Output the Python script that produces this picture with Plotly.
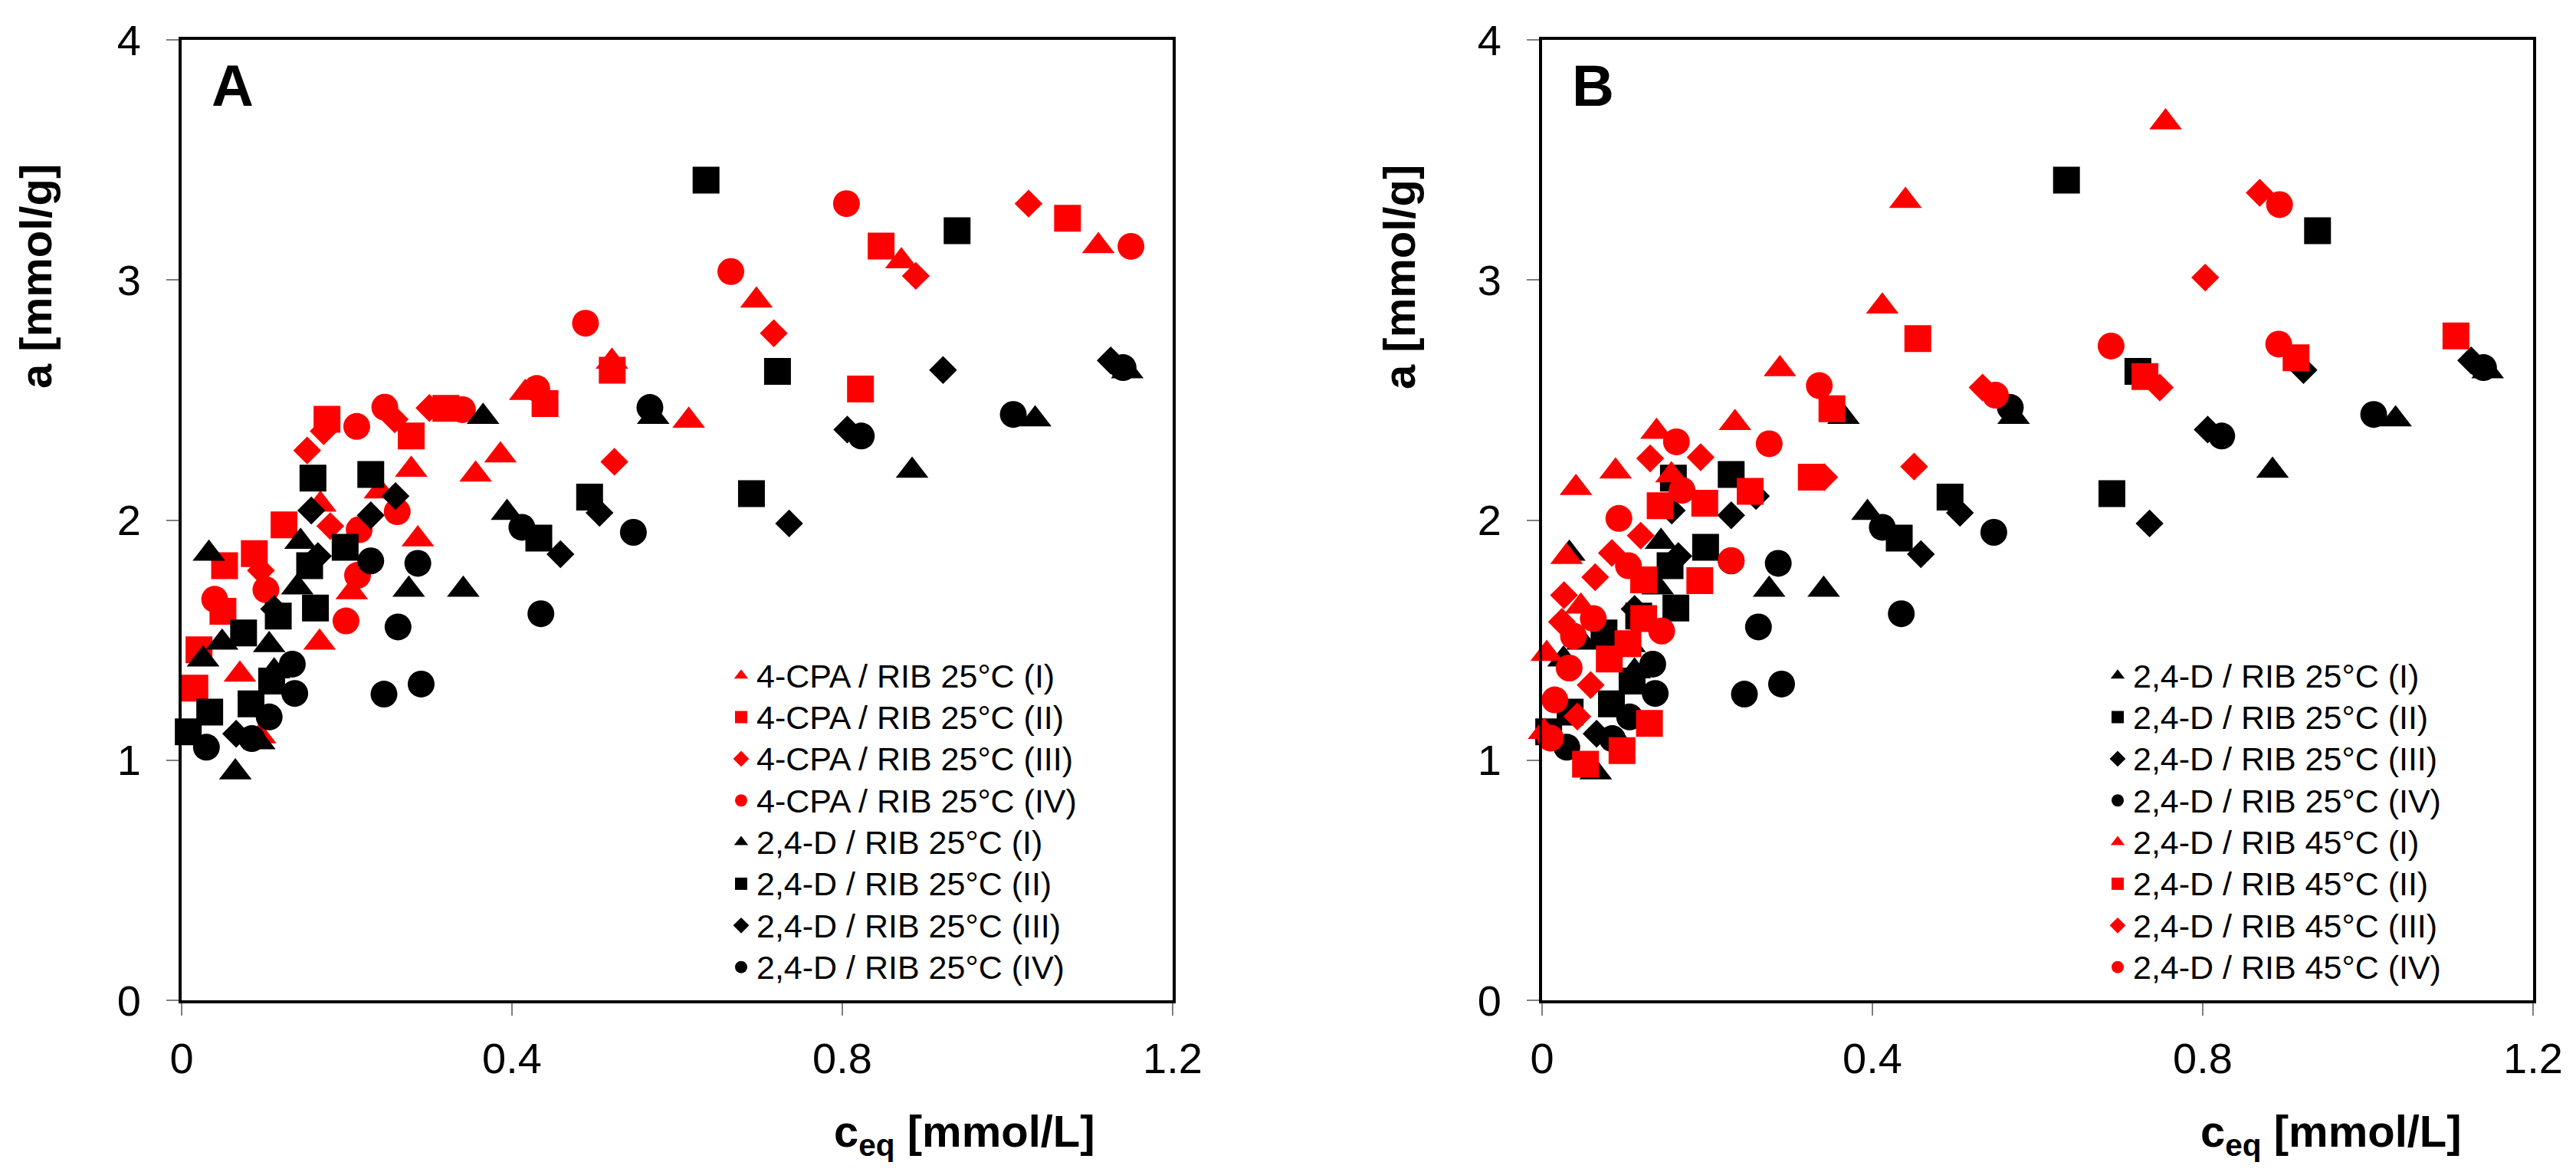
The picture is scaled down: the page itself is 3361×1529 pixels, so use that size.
import plotly.graph_objects as go

# ---------------- data ----------------
# Panel A: 4-CPA / RIB 25°C (red)
cpa_I_x = [0.095, 0.0705, 0.167, 0.206, 0.168, 0.240, 0.286, 0.278, 0.356, 0.386, 0.416, 0.521, 0.614, 0.696, 0.8715, 1.110]
cpa_I_y = [1.10, 1.357, 1.49, 1.70, 2.065, 2.12, 1.92, 2.21, 2.19, 2.27, 2.53, 2.66, 2.414, 2.915, 3.078, 3.141]
cpa_II_x = [0.016, 0.021, 0.050, 0.052, 0.088, 0.124, 0.176, 0.278, 0.320, 0.440, 0.5214, 0.822, 0.847, 1.0727]
cpa_II_y = [1.30, 1.46, 1.62, 1.81, 1.86, 1.98, 2.42, 2.35, 2.465, 2.485, 2.624, 2.546, 3.141, 3.257]
cpa_III_x = [0.096, 0.152, 0.172, 0.180, 0.258, 0.300, 0.524, 0.717, 0.889, 1.0255]
cpa_III_y = [1.79, 2.29, 2.37, 1.975, 2.42, 2.467, 2.243, 2.778, 3.017, 3.318]
cpa_IV_x = [0.040, 0.102, 0.199, 0.213, 0.215, 0.212, 0.246, 0.261, 0.340, 0.430, 0.489, 0.665, 0.805, 1.1495]
cpa_IV_y = [1.67, 1.71, 1.58, 1.77, 1.96, 2.39, 2.47, 2.035, 2.46, 2.548, 2.82, 3.035, 3.318, 3.14]

# 2,4-D / RIB 25°C (black) - shown in both panels
d25_I_x = [0.026, 0.033, 0.049, 0.065, 0.094, 0.106, 0.112, 0.140, 0.144, 0.275, 0.341, 0.365, 0.394, 0.571, 0.8845, 1.0335, 1.145]
d25_I_y = [1.42, 1.86, 1.49, 0.95, 1.075, 1.48, 1.37, 1.72, 1.91, 1.71, 1.71, 2.43, 2.03, 2.43, 2.206, 2.42, 2.62]
d25_II_x = [0.008, 0.034, 0.075, 0.084, 0.109, 0.117, 0.155, 0.159, 0.162, 0.198, 0.229, 0.4325, 0.494, 0.635, 0.690, 0.7215, 0.939]
d25_II_y = [1.118, 1.20, 1.53, 1.235, 1.33, 1.60, 1.81, 2.175, 1.634, 1.887, 2.19, 1.925, 2.096, 3.416, 2.11, 2.619, 3.205]
d25_III_x = [0.066, 0.112, 0.157, 0.165, 0.229, 0.259, 0.4587, 0.506, 0.7356, 0.806, 0.922, 1.125]
d25_III_y = [1.11, 1.63, 2.04, 1.85, 2.02, 2.10, 1.858, 2.03, 1.986, 2.377, 2.625, 2.665]
d25_IV_x = [0.030, 0.085, 0.106, 0.134, 0.137, 0.229, 0.245, 0.262, 0.286, 0.290, 0.412, 0.435, 0.547, 0.567, 0.823, 1.007, 1.14]
d25_IV_y = [1.054, 1.09, 1.18, 1.40, 1.278, 1.83, 1.275, 1.555, 1.82, 1.317, 1.97, 1.61, 1.949, 2.469, 2.35, 2.44, 2.635]

# Panel B: 2,4-D / RIB 45°C (red)
d45_I_x = [0.0025, 0.0056, 0.0297, 0.041, 0.047, 0.089, 0.1386, 0.1566, 0.2336, 0.288, 0.412, 0.440, 0.755]
d45_I_y = [1.118, 1.443, 1.847, 2.134, 1.64, 2.203, 2.368, 2.187, 2.405, 2.629, 2.89, 3.33, 3.657]
d45_II_x = [0.0526, 0.0968, 0.130, 0.0814, 0.104, 0.123, 0.123, 0.191, 0.143, 0.197, 0.252, 0.326, 0.351, 0.455, 0.730, 0.913, 1.1066]
d45_II_y = [0.983, 1.04, 1.153, 1.421, 1.485, 1.59, 1.751, 1.748, 2.06, 2.07, 2.12, 2.179, 2.464, 2.756, 2.598, 2.676, 2.767]
d45_III_x = [0.0427, 0.0588, 0.024, 0.0266, 0.0643, 0.0845, 0.1194, 0.1309, 0.192, 0.3417, 0.4505, 0.5334, 0.748, 0.803, 0.869]
d45_III_y = [1.182, 1.313, 1.576, 1.687, 1.762, 1.863, 1.935, 2.257, 2.262, 2.179, 2.223, 2.552, 2.552, 3.01, 3.363]
d45_IV_x = [0.0102, 0.0155, 0.0328, 0.038, 0.062, 0.093, 0.1046, 0.1448, 0.1627, 0.1695, 0.229, 0.275, 0.3357, 0.549, 0.689, 0.892, 0.893]
d45_IV_y = [1.092, 1.251, 1.384, 1.517, 1.59, 2.007, 1.81, 1.538, 2.326, 2.124, 1.831, 2.318, 2.56, 2.52, 2.725, 2.733, 3.314]

names_A = ["4-CPA / RIB 25°C (I)", "4-CPA / RIB 25°C (II)", "4-CPA / RIB 25°C (III)", "4-CPA / RIB 25°C (IV)",
           "2,4-D / RIB 25°C (I)", "2,4-D / RIB 25°C (II)", "2,4-D / RIB 25°C (III)", "2,4-D / RIB 25°C (IV)"]
names_B = ["2,4-D / RIB 25°C (I)", "2,4-D / RIB 25°C (II)", "2,4-D / RIB 25°C (III)", "2,4-D / RIB 25°C (IV)",
           "2,4-D / RIB 45°C (I)", "2,4-D / RIB 45°C (II)", "2,4-D / RIB 45°C (III)", "2,4-D / RIB 45°C (IV)"]
x_ticks = [0, 0.4, 0.8, 1.2]
x_ticktext = ["0", "0.4", "0.8", "1.2"]
y_ticks = [0, 1, 2, 3, 4]

# ---------------- styling ----------------
RED = "#FF0000"
BLACK = "#000000"
FONT = "Liberation Sans, Arial, sans-serif"
symbols = ["triangle-up", "square", "diamond", "circle"]
sizes = {"triangle-up": 37, "square": 35, "diamond": 28, "circle": 35}


def legend_label(nm):
    return '<span style="font-size:43px">' + nm + '</span>'


fig = go.Figure()

series_A = [(cpa_I_x, cpa_I_y), (cpa_II_x, cpa_II_y), (cpa_III_x, cpa_III_y), (cpa_IV_x, cpa_IV_y),
            (d25_I_x, d25_I_y), (d25_II_x, d25_II_y), (d25_III_x, d25_III_y), (d25_IV_x, d25_IV_y)]
series_B = [(d25_I_x, d25_I_y), (d25_II_x, d25_II_y), (d25_III_x, d25_III_y), (d25_IV_x, d25_IV_y),
            (d45_I_x, d45_I_y), (d45_II_x, d45_II_y), (d45_III_x, d45_III_y), (d45_IV_x, d45_IV_y)]
colors_A = [RED] * 4 + [BLACK] * 4
colors_B = [BLACK] * 4 + [RED] * 4

for i, ((xs, ys), nm) in enumerate(zip(series_A, names_A)):
    sym = symbols[i % 4]
    fig.add_trace(go.Scatter(x=xs, y=ys, mode="markers", name=legend_label(nm), legend="legend",
                             xaxis="x", yaxis="y", cliponaxis=False,
                             marker=dict(symbol=sym, size=sizes[sym], color=colors_A[i], line=dict(width=0))))
for i, ((xs, ys), nm) in enumerate(zip(series_B, names_B)):
    sym = symbols[i % 4]
    fig.add_trace(go.Scatter(x=xs, y=ys, mode="markers", name=legend_label(nm), legend="legend2",
                             xaxis="x2", yaxis="y2", cliponaxis=False,
                             marker=dict(symbol=sym, size=sizes[sym], color=colors_B[i], line=dict(width=0))))

W, H = 3361, 1529
ML, MR, MT, MB = 229, 64, 44, 232
PW = W - ML - MR
PH = H - MT - MB

axis_common = dict(showline=True, linewidth=4, linecolor="black", mirror=True,
                   ticks="outside", ticklen=16, tickwidth=2, tickcolor="#7f7f7f",
                   showgrid=False, zeroline=False,
                   tickfont=dict(family=FONT, size=56, color="black"))

dA = [0, 1293 / PW]
dB = [(2004 - ML) / PW, 1]

legend_common = dict(xanchor="left", yanchor="top", bgcolor="rgba(0,0,0,0)",
                     font=dict(family=FONT, size=39.5, color="black"),
                     itemsizing="trace", tracegroupgap=0)

fig.update_layout(
    width=W, height=H,
    margin=dict(l=ML, r=MR, t=MT, b=MB),
    paper_bgcolor="white", plot_bgcolor="white",
    font=dict(family=FONT, color="black"),
    xaxis=dict(domain=dA, range=[0, 1.2], tickvals=x_ticks, ticktext=x_ticktext, anchor="y",
               ticklabelstandoff=8, **axis_common),
    yaxis=dict(domain=[0, 1], range=[0, 4], tickvals=y_ticks, anchor="x", ticklabelstandoff=22, **axis_common),
    xaxis2=dict(domain=dB, range=[0, 1.2], tickvals=x_ticks, ticktext=x_ticktext, anchor="y2",
                ticklabelstandoff=8, **axis_common),
    yaxis2=dict(domain=[0, 1], range=[0, 4], tickvals=y_ticks, anchor="x2", ticklabelstandoff=22, **axis_common),
    legend=dict(x=(939 - ML) / PW, y=(1297 - 841) / PH, **legend_common),
    legend2=dict(x=(2735 - ML) / PW, y=(1297 - 841) / PH, **legend_common),
    showlegend=True,
)

ann = []
for letter, xd in (("A", "x domain"), ("B", "x2 domain")):
    ann.append(dict(text="<b>" + letter + "</b>", xref=xd, yref="y domain", x=37 / 1293, y=(1297 - 104) / PH,
                    xanchor="left", yanchor="middle", showarrow=False,
                    font=dict(family=FONT, size=76, color="black")))
for xc in (39, 1818):
    ann.append(dict(text="<b>a [mmol/g]</b>", xref="paper", yref="paper", x=(xc - ML) / PW, y=(1297 - 353) / PH,
                    xanchor="center", yanchor="middle", textangle=-90, showarrow=False,
                    font=dict(family=FONT, size=58, color="black")))
for xc in (1250, 3033):
    ann.append(dict(text="<b>c<sub>eq</sub> [mmol/L]</b>", xref="paper", yref="paper", x=(xc - ML) / PW,
                    y=(1297 - 1472) / PH, xanchor="center", yanchor="middle", showarrow=False,
                    font=dict(family=FONT, size=58, color="black")))
fig.update_layout(annotations=ann)

fig.write_html("out.html")
